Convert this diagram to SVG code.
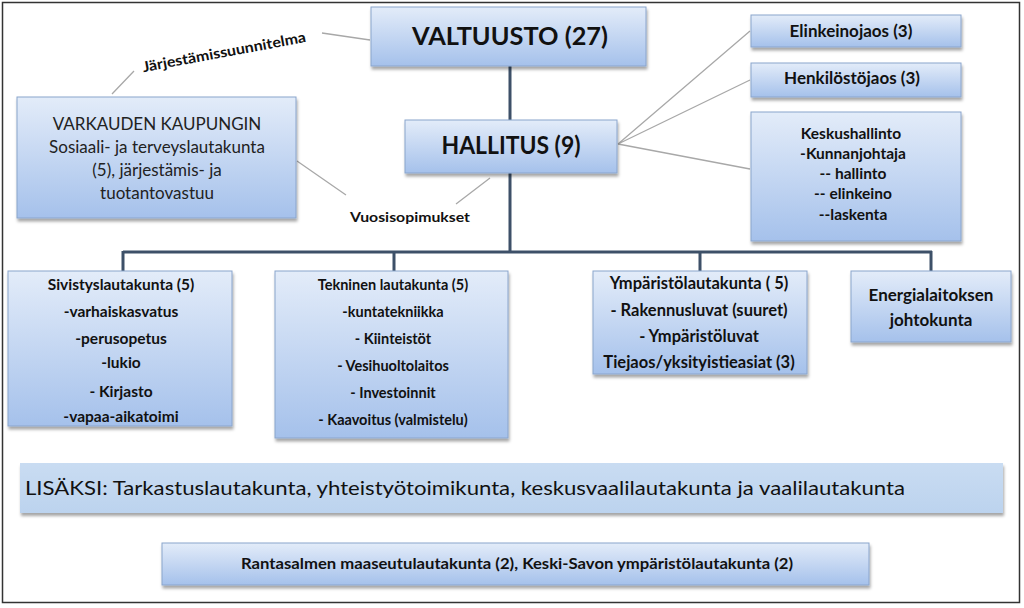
<svg xmlns="http://www.w3.org/2000/svg" width="1024" height="608" viewBox="0 0 1024 608">
<defs>
<linearGradient id="g" x1="0" y1="0" x2="0" y2="1">
<stop offset="0" stop-color="#e3ecf9"/>
<stop offset="1" stop-color="#a5c1eb"/>
</linearGradient>
<linearGradient id="g2" x1="0" y1="0" x2="0" y2="1">
<stop offset="0" stop-color="#c9dcf2"/>
<stop offset="1" stop-color="#bcd3ee"/>
</linearGradient>
<filter id="sh" x="-10%" y="-10%" width="120%" height="130%">
<feGaussianBlur in="SourceAlpha" stdDeviation="1.5"/>
<feOffset dx="1" dy="2.5" result="b"/>
<feFlood flood-color="#000" flood-opacity="0.35"/>
<feComposite in2="b" operator="in"/>
<feMerge><feMergeNode/><feMergeNode in="SourceGraphic"/></feMerge>
</filter>
</defs>
<style>
.box{fill:url(#g);stroke:#8aa5cc;stroke-width:1;filter:url(#sh)}
.t{font-family:Lato,"Liberation Sans",sans-serif;font-weight:bold;fill:#111;text-anchor:middle}
.r{font-family:Lato,"Liberation Sans",sans-serif;fill:#222;text-anchor:middle}
.tree{stroke:#3d5068;stroke-width:3;fill:none}
.thin{stroke:#a8a8a8;stroke-width:1.3;fill:none}
</style>
<rect x="0" y="0" width="1024" height="608" fill="#fff"/>
<rect x="2.5" y="2.5" width="1017" height="600" fill="none" stroke="#333" stroke-width="1.5"/>

<g id="connectors">
<path class="tree" d="M510,66 V120 M510,173 V252 M123,252 H932 M123,251 V272 M394,251 V272 M700,251 V272 M931,251 V272"/>
<path class="thin" d="M322,33 L370,40 M112,94 L134,71 M297,161 L346,195 M456,204 L490,178 M618,144 L750,31 M618,144 L750,80 M618,144 L750,169"/>
</g>

<g id="valtuusto">
<rect class="box" x="371" y="7" width="275" height="59"/>
<text class="t" x="510" y="45" font-size="25" textLength="196" lengthAdjust="spacingAndGlyphs">VALTUUSTO (27)</text>
</g>
<g id="hallitus">
<rect class="box" x="405" y="120" width="212" height="53"/>
<text class="t" x="511" y="154" font-size="24" textLength="139" lengthAdjust="spacingAndGlyphs">HALLITUS (9)</text>
</g>
<g id="varkaus">
<rect class="box" x="17" y="97" width="279" height="121"/>
<text class="r" x="157" y="130" font-size="17">VARKAUDEN KAUPUNGIN</text>
<text class="r" x="157" y="153" font-size="17">Sosiaali- ja terveyslautakunta</text>
<text class="r" x="157" y="176" font-size="17">(5), järjestämis- ja</text>
<text class="r" x="157" y="199" font-size="17">tuotantovastuu</text>
</g>
<g id="label-jarj">
<text class="t" x="225" y="57" font-size="14.5" textLength="166" lengthAdjust="spacingAndGlyphs" transform="rotate(-10.5 225 57)">Järjestämissuunnitelma</text>
</g>
<g id="label-vuosi">
<text class="t" x="410" y="222" font-size="14" textLength="120" lengthAdjust="spacingAndGlyphs">Vuosisopimukset</text>
</g>
<g id="elinkeino" font-size="17">
<rect class="box" x="751" y="15" width="210" height="32"/>
<text class="t" x="851" y="37">Elinkeinojaos (3)</text>
</g>
<g id="henkilosto" font-size="17">
<rect class="box" x="751" y="63" width="210" height="34"/>
<text class="t" x="852" y="84">Henkilöstöjaos (3)</text>
</g>
<g id="keskushallinto" font-size="15.5">
<rect class="box" x="751" y="112" width="210" height="129"/>
<text class="t" x="851" y="139">Keskushallinto</text>
<text class="t" x="853" y="159">-Kunnanjohtaja</text>
<text class="t" x="853" y="179">-- hallinto</text>
<text class="t" x="853" y="199">-- elinkeino</text>
<text class="t" x="853" y="220">--laskenta</text>
</g>
<g id="sivistys" font-size="15.5">
<rect class="box" x="8" y="271" width="224" height="155"/>
<text class="t" x="121" y="290">Sivistyslautakunta (5)</text>
<text class="t" x="121" y="317">-varhaiskasvatus</text>
<text class="t" x="121" y="344">-perusopetus</text>
<text class="t" x="121" y="368">-lukio</text>
<text class="t" x="121" y="397">- Kirjasto</text>
<text class="t" x="121" y="422">-vapaa-aikatoimi</text>
</g>
<g id="tekninen" font-size="14.5">
<rect class="box" x="275" y="271" width="233" height="167"/>
<text class="t" x="393" y="290">Tekninen lautakunta (5)</text>
<text class="t" x="393" y="317">-kuntatekniikka</text>
<text class="t" x="393" y="344">- Kiinteistöt</text>
<text class="t" x="393" y="371">- Vesihuoltolaitos</text>
<text class="t" x="393" y="398">- Investoinnit</text>
<text class="t" x="393" y="425">-  Kaavoitus (valmistelu)</text>
</g>
<g id="ymparisto" font-size="16.5">
<rect class="box" x="593" y="271" width="214" height="103"/>
<text class="t" x="699" y="289">Ympäristölautakunta ( 5)</text>
<text class="t" x="699" y="316">- Rakennusluvat (suuret)</text>
<text class="t" x="699" y="342">- Ympäristöluvat</text>
<text class="t" x="699" y="368">Tiejaos/yksityistieasiat (3)</text>
</g>
<g id="energia" font-size="17">
<rect class="box" x="851" y="271" width="160" height="71"/>
<text class="t" x="931" y="301">Energialaitoksen</text>
<text class="t" x="931" y="326">johtokunta</text>
</g>
<g id="lisaksi">
<rect x="20" y="463" width="983" height="50" fill="url(#g2)" filter="url(#sh)"/>
<text x="25" y="495" font-family="Lato,'Liberation Sans',sans-serif" font-size="19" fill="#111" textLength="880" lengthAdjust="spacingAndGlyphs">LISÄKSI: Tarkastuslautakunta, yhteistyötoimikunta, keskusvaalilautakunta ja vaalilautakunta</text>
</g>
<g id="rantasalmi">
<rect class="box" x="162" y="543" width="707" height="42"/>
<text class="t" x="517" y="569" font-size="15" textLength="552" lengthAdjust="spacingAndGlyphs">Rantasalmen maaseutulautakunta (2), Keski-Savon ympäristölautakunta (2)</text>
</g>
</svg>
